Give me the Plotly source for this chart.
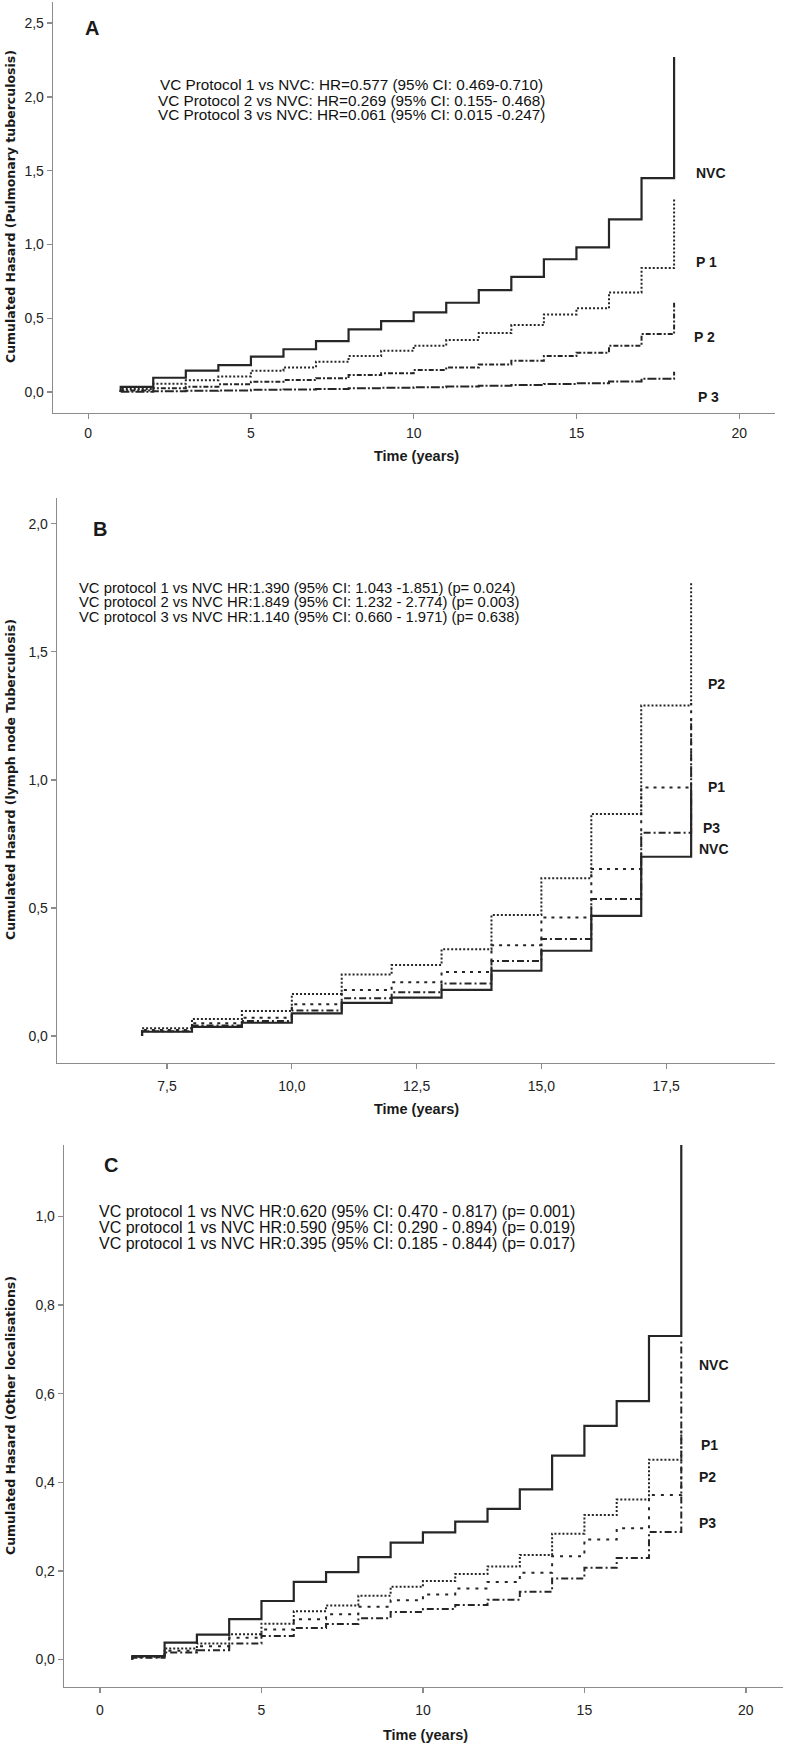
import plotly.graph_objects as go

W, H = 788, 1748

# ---------------- data ----------------
# Panel A: Pulmonary tuberculosis (value on [t_i, t_i+1); last value = top of final jump)
a_times = [1, 2, 3, 4, 5, 6, 7, 8, 9, 10, 11, 12, 13, 14, 15, 16, 17, 18]
a_nvc = [0.035, 0.097, 0.145, 0.183, 0.24, 0.29, 0.345, 0.425, 0.48, 0.54, 0.605, 0.69, 0.78, 0.90, 0.98, 1.17, 1.45, 2.27]
a_p1 = [0.02, 0.056, 0.08, 0.105, 0.144, 0.167, 0.205, 0.244, 0.28, 0.314, 0.352, 0.40, 0.454, 0.526, 0.567, 0.675, 0.84, 1.31]
a_p2 = [0.01, 0.026, 0.036, 0.052, 0.07, 0.081, 0.093, 0.115, 0.127, 0.149, 0.167, 0.187, 0.212, 0.244, 0.267, 0.314, 0.393, 0.605]
a_p3 = [0.002, 0.006, 0.009, 0.011, 0.015, 0.018, 0.021, 0.026, 0.029, 0.033, 0.037, 0.042, 0.048, 0.055, 0.06, 0.071, 0.09, 0.137]

# Panel B: lymph node tuberculosis
b_times = [7, 8, 9, 10, 11, 12, 13, 14, 15, 16, 17, 18]
b_nvc = [0.017, 0.036, 0.052, 0.089, 0.13, 0.15, 0.18, 0.255, 0.333, 0.469, 0.70, 0.96]
b_p1 = [0.024, 0.05, 0.072, 0.124, 0.18, 0.21, 0.25, 0.355, 0.463, 0.652, 0.97, 1.30]
b_p2 = [0.031, 0.067, 0.098, 0.164, 0.24, 0.277, 0.339, 0.473, 0.616, 0.867, 1.29, 1.775]
b_p3 = [0.019, 0.041, 0.059, 0.10, 0.148, 0.171, 0.205, 0.293, 0.379, 0.535, 0.794, 1.25]

# Panel C: other localisations
c_times = [1, 2, 3, 4, 5, 6, 7, 8, 9, 10, 11, 12, 13, 14, 15, 16, 17, 18]
c_nvc = [0.0075, 0.038, 0.056, 0.091, 0.132, 0.175, 0.197, 0.231, 0.264, 0.287, 0.311, 0.34, 0.384, 0.46, 0.527, 0.583, 0.73, 1.25]
c_p1 = [0.006, 0.025, 0.036, 0.057, 0.081, 0.109, 0.122, 0.144, 0.164, 0.177, 0.193, 0.21, 0.236, 0.284, 0.326, 0.361, 0.451, 0.52]
c_p2 = [0.005, 0.02, 0.03, 0.049, 0.068, 0.091, 0.102, 0.119, 0.134, 0.147, 0.16, 0.175, 0.196, 0.233, 0.271, 0.296, 0.371, 0.45]
c_p3 = [0.004, 0.016, 0.021, 0.036, 0.053, 0.071, 0.08, 0.093, 0.107, 0.114, 0.123, 0.135, 0.153, 0.183, 0.207, 0.229, 0.288, 0.72]

a_text = ["VC Protocol 1 vs NVC: HR=0.577 (95% CI: 0.469-0.710)",
          "VC Protocol 2 vs NVC: HR=0.269 (95% CI: 0.155- 0.468)",
          "VC Protocol 3 vs NVC: HR=0.061 (95% CI: 0.015 -0.247)"]
b_text = ["VC protocol 1 vs NVC HR:1.390 (95% CI: 1.043 -1.851) (p= 0.024)",
          "VC protocol 2 vs NVC HR:1.849 (95% CI: 1.232 - 2.774) (p= 0.003)",
          "VC protocol 3 vs NVC HR:1.140 (95% CI: 0.660 - 1.971) (p= 0.638)"]
c_text = ["VC protocol 1 vs NVC HR:0.620 (95% CI: 0.470 - 0.817) (p= 0.001)",
          "VC protocol 1 vs NVC HR:0.590 (95% CI: 0.290 - 0.894) (p= 0.019)",
          "VC protocol 1 vs NVC HR:0.395 (95% CI: 0.185 - 0.844) (p= 0.017)"]

a_ytitle = "Cumulated Hasard (Pulmonary tuberculosis)"
b_ytitle = "Cumulated Hasard (lymph node Tuberculosis)"
c_ytitle = "Cumulated Hasard (Other localisations)"
xtitle = "Time (years)"

# ---------------- styling ----------------
LINE = "#262626"
AXIS = "#8c8c8c"
FONT = "Liberation Sans, Arial, sans-serif"
YFONT = "DejaVu Sans, Verdana, sans-serif"

def px(x):
    return x / W

def py(y):
    return 1 - y / H

fig = go.Figure()

def add_curve(times, vals, dash, width, axis):
    xs = [times[0]] + times
    ys = [0] + vals
    fig.add_trace(go.Scatter(x=xs, y=ys, mode="lines", line_shape="hv",
                             line=dict(color=LINE, width=width, dash=dash),
                             xaxis="x" + axis, yaxis="y" + axis,
                             showlegend=False, hoverinfo="skip"))

# Panel A
add_curve(a_times, a_p3, "9px,2px,2px,2px", 2, "")
add_curve(a_times, a_p2, "5px,2px,2px,2px", 2, "")
add_curve(a_times, a_p1, "2px,2px", 2, "")
add_curve(a_times, a_nvc, "solid", 2.2, "")
# Panel B
add_curve(b_times, b_nvc, "solid", 2.2, "2")
add_curve(b_times, b_p3, "7px,3px,2px,3px", 2, "2")
add_curve(b_times, b_p1, "3px,5px", 2, "2")
add_curve(b_times, b_p2, "2px,2px", 2, "2")
# Panel C
add_curve(c_times, c_p3, "7px,3px,2px,3px", 2, "3")
add_curve(c_times, c_p2, "3px,6px", 2, "3")
add_curve(c_times, c_p1, "2px,2px", 2, "3")
add_curve(c_times, c_nvc, "solid", 2.2, "3")

def axis_common():
    return dict(showline=True, linecolor=AXIS, linewidth=1.3, showgrid=False, zeroline=False,
                ticks="outside", ticklen=5, tickcolor=AXIS, tickwidth=1.3,
                tickfont=dict(family=FONT, size=14, color="#222"), fixedrange=True)

# panel geometry in pixels: (x_left, x_right, y_top, y_bottom)
geoA = (53, 775, 2, 413)
geoB = (57, 775, 498, 1063)
geoC = (64, 783, 1145, 1687)

layout = dict(
    width=W, height=H, margin=dict(l=0, r=0, t=0, b=0),
    paper_bgcolor="white", plot_bgcolor="white", separators=",.",
    showlegend=False, hovermode=False,
)
layout["xaxis"] = dict(axis_common(), domain=[px(geoA[0]), px(geoA[1])], range=[-1.08, 21.1],
                       tickvals=[0, 5, 10, 15, 20], anchor="y", ticklabelstandoff=2)
layout["yaxis"] = dict(axis_common(), domain=[py(geoA[3]), py(geoA[2])], range=[-0.142, 2.643],
                       tickvals=[0, 0.5, 1.0, 1.5, 2.0, 2.5], tickformat=".1f", anchor="x")
layout["xaxis2"] = dict(axis_common(), domain=[px(geoB[0]), px(geoB[1])], range=[5.296, 19.68],
                        tickvals=[7.5, 10, 12.5, 15, 17.5], tickformat=".1f", anchor="y2", ticklabelstandoff=5)
layout["yaxis2"] = dict(axis_common(), domain=[py(geoB[3]), py(geoB[2])], range=[-0.105, 2.10],
                        tickvals=[0, 0.5, 1.0, 1.5, 2.0], tickformat=".1f", anchor="x2")
layout["xaxis3"] = dict(axis_common(), domain=[px(geoC[0]), px(geoC[1])], range=[-1.115, 21.15],
                        tickvals=[0, 5, 10, 15, 20], anchor="y3", ticklabelstandoff=5)
layout["yaxis3"] = dict(axis_common(), domain=[py(geoC[3]), py(geoC[2])], range=[-0.062, 1.161],
                        tickvals=[0, 0.2, 0.4, 0.6, 0.8, 1.0], tickformat=".1f", anchor="x3")
fig.update_layout(**layout)

anns = []

def ann(x, y, text, size, anchor="center", bold=False, family=FONT, angle=0, color="#1a1a1a"):
    t = "<b>" + text + "</b>" if bold else text
    anns.append(dict(x=px(x), y=py(y), xref="paper", yref="paper", text=t, showarrow=False,
                     xanchor=anchor, yanchor="middle", textangle=angle,
                     font=dict(family=family, size=size, color=color)))

# panel letters
ann(92, 28, "A", 20, bold=True)
ann(100, 529, "B", 20, bold=True)
ann(111, 1165, "C", 20, bold=True)

# HR texts
for i, yy in enumerate([85, 100, 115]):
    ann(351, yy, a_text[i], 15.3, anchor="center", color="#111")
for i, yy in enumerate([588, 602.5, 617]):
    ann(77, yy, b_text[i], 14.8, anchor="left", color="#111")
for i, yy in enumerate([1211, 1227, 1243]):
    ann(97, yy, c_text[i], 16, anchor="left", color="#111")

# curve labels
ann(694, 173, "NVC", 14, anchor="left", bold=True)
ann(694, 262, "P 1", 14, anchor="left", bold=True)
ann(692, 337, "P 2", 14, anchor="left", bold=True)
ann(696, 397, "P 3", 14, anchor="left", bold=True)

ann(706, 684, "P2", 14, anchor="left", bold=True)
ann(706, 787, "P1", 14, anchor="left", bold=True)
ann(701, 828, "P3", 14, anchor="left", bold=True)
ann(697, 849, "NVC", 14, anchor="left", bold=True)

ann(697, 1365, "NVC", 14, anchor="left", bold=True)
ann(699, 1445, "P1", 14, anchor="left", bold=True)
ann(697, 1477, "P2", 14, anchor="left", bold=True)
ann(697, 1523, "P3", 14, anchor="left", bold=True)

# axis titles
ann(417, 456, xtitle, 14.5, bold=True)
ann(416, 1109, xtitle, 14.5, bold=True)
ann(425, 1735, xtitle, 14.5, bold=True)

ann(10, 207, a_ytitle, 12.5, bold=True, family=YFONT, angle=-90)
ann(10, 780, b_ytitle, 12.5, bold=True, family=YFONT, angle=-90)
ann(10, 1416, c_ytitle, 12.5, bold=True, family=YFONT, angle=-90)

fig.update_layout(annotations=anns)
fig.write_html("out.html", config={"displayModeBar": False, "staticPlot": True},
               post_script="document.body.style.margin='0';document.body.style.overflow='hidden';")
